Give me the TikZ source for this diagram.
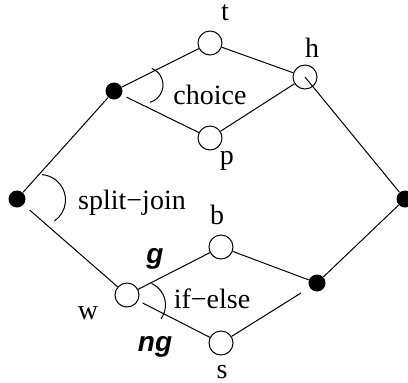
\documentclass[tikz,border=0pt]{standalone}
\usepackage{fontspec}
\setmainfont{Liberation Serif}
\setsansfont{Liberation Sans}
\usepackage{tikz}

\begin{document}
\begin{tikzpicture}[
    x=0.5pt, y=-0.5pt,
    every node/.style={font=\fontsize{14}{16}\selectfont},
    state/.style={circle, draw, fill=white, line width=0.5pt, minimum size=12pt, inner sep=0pt},
    junction/.style={circle, fill=black, minimum size=8.5pt, inner sep=0pt},
    lbl/.style={inner sep=0pt},
    guard/.style={inner sep=0pt, font=\fontsize{14}{16}\selectfont\sffamily\bfseries\itshape},
    edge/.style={draw, line width=0.5pt},
    angle/.style={draw, line width=0.5pt}
]
\useasboundingbox (0,0) rectangle (408,382);

% Nodes
\node[junction] (lf) at (17,199) {};
\node[junction] (ch) at (114,91) {};
\node[state] (t) at (210,43) {};
\node[state] (p) at (210,138) {};
\node[state] (h) at (305,77) {};
\node[junction] (rt) at (405,199) {};
\node[state] (w) at (127,295) {};
\node[state] (b) at (221,247) {};
\node[state] (s) at (221,343) {};
\node[junction] (jn) at (317,283) {};

% Labels
\node[lbl] (tl) at (225,13) {t};
\node[lbl] (hl) at (312,48) {h};
\node[lbl] (pl) at (227,161) {p};
\node[lbl] (bl) at (217,215) {b};
\node[lbl] (wl) at (88,313) {w};
\node[lbl] (sl) at (222,372) {s};
\node[lbl] (chl) at (210,95) {choice};
\node[lbl] (sjl) at (132,203) {split−join};
\node[lbl] (iel) at (212,299) {if−else};
\node[guard] (gl) at (155,259) {g};
\node[guard] (ngl) at (155,347) {ng};

% Edges
\draw[edge] (lf) -- (ch);
\draw[edge, shorten <=4pt] (lf) -- (w);
\draw[edge] (ch) -- (t);
\draw[edge, shorten <=2.5pt] (ch) -- (p);
\draw[edge] (t) -- (h);
\draw[edge] (p) -- (h);
\draw[edge] (h.center) -- (rt);
\draw[edge] (w) -- (b);
\draw[edge, shorten <=2.5pt] (w) -- (s);
\draw[edge] (b) -- (jn);
\draw[edge, shorten >=5pt] (s) -- (jn);
\draw[edge] (rt) -- (jn);

% Angle marks
\draw[angle] ([shift={(23,1)}]lf.center) ++(-85:25.5) arc[start angle=-85, end angle=56, radius=25.5];
\draw[angle] ([shift={(31,-6)}]ch.center) ++(-68:18) arc[start angle=-68, end angle=74, radius=18];
\draw[angle] ([shift={(15,10)}]w.center) ++(-66:23.5) arc[start angle=-66, end angle=36, radius=23.5];

\end{tikzpicture}
\end{document}
